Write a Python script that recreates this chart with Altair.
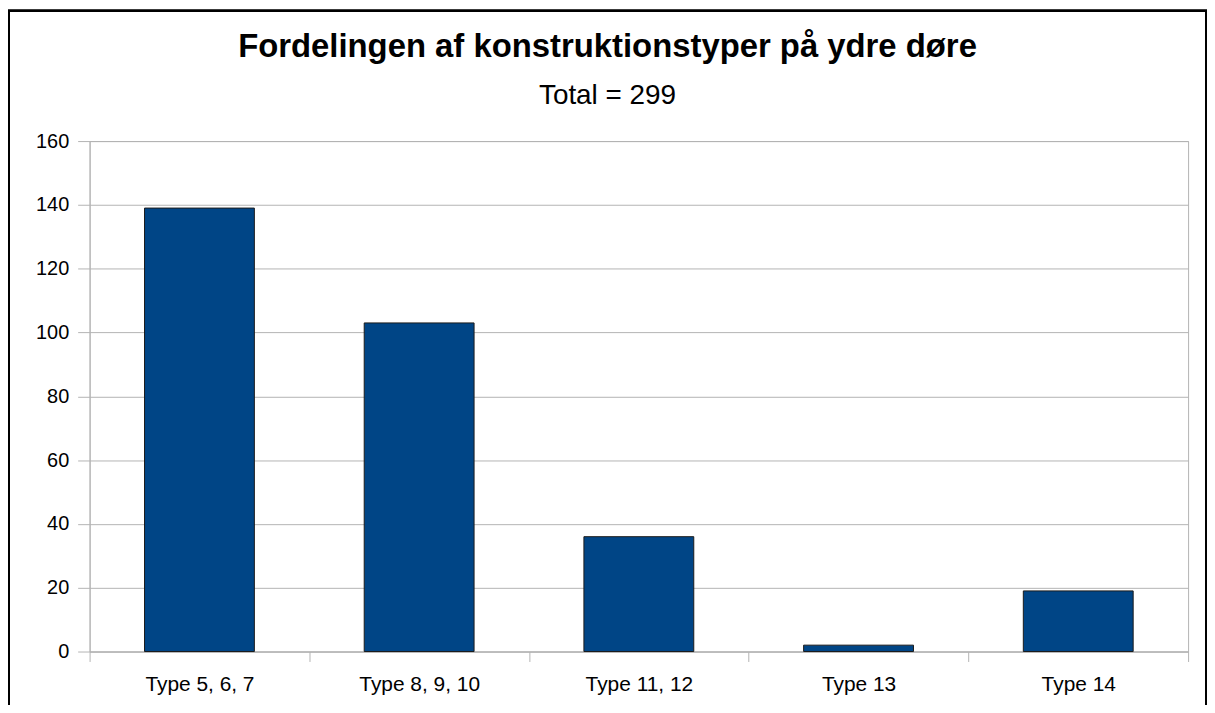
import altair as alt
import pandas as pd

categories = ["Type 5, 6, 7", "Type 8, 9, 10", "Type 11, 12", "Type 13", "Type 14"]
counts = [139, 103, 36, 2, 19]
y_ticks = [0, 20, 40, 60, 80, 100, 120, 140, 160]

df = pd.DataFrame({"type": categories, "count": counts})

FONT = "Liberation Sans"
GRID = "#b3b3b3"

bars = alt.Chart(df).mark_bar(color="#004586", stroke="#1a1a1a", strokeWidth=1,
                              width=alt.RelativeBandSize(0.5)).encode(
    x=alt.X("type:N", sort=categories,
            scale=alt.Scale(paddingInner=0, paddingOuter=0),
            axis=alt.Axis(title=None, labelAngle=0, labelFontSize=21, labelFont=FONT,
                          labelColor="#000000", tickBand="extent", tickSize=10,
                          tickColor=GRID, domainColor=GRID, labelPadding=12, grid=False)),
    y=alt.Y("count:Q", scale=alt.Scale(domain=[0, 160], nice=False),
            axis=alt.Axis(title=None, values=y_ticks, labelFontSize=20, labelFont=FONT,
                          labelColor="#000000", tickSize=12, tickColor=GRID,
                          domainColor=GRID, gridColor=GRID, labelPadding=9)),
)

border = alt.Chart(df).mark_rect(fill=None, stroke="#000000", strokeWidth=2).encode(
    x=alt.value(-81), x2=alt.value(1122), y=alt.value(-131), y2=alt.value(590)
)

chart = alt.layer(border, bars).properties(
    width=1104, height=513,
    title=alt.TitleParams(
        text="Fordelingen af konstruktionstyper på ydre døre",
        subtitle="Total = 299",
        font=FONT, fontSize=33, fontWeight="bold", color="#000000",
        subtitleFont=FONT, subtitleFontSize=28, subtitleColor="#000000",
        subtitlePadding=18, anchor="middle", frame="bounds", offset=-101,
    ),
    autosize=alt.AutoSizeParams(type="none"),
    padding={"left": 82, "top": 132, "right": 19, "bottom": 52},
).configure_view(stroke=GRID)

chart.save("out.html", embed_options={"renderer": "svg", "actions": False})
